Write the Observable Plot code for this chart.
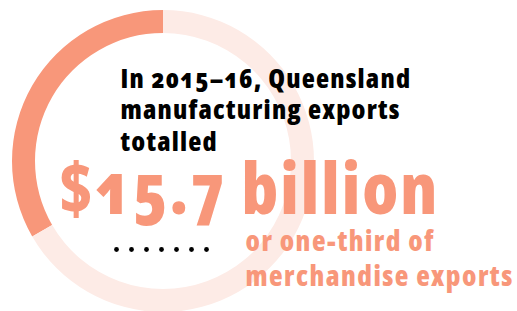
<!DOCTYPE html>
<html>
<head>
<meta charset="utf-8">
<script src="https://cdn.jsdelivr.net/npm/d3@7"></script>
<script src="https://cdn.jsdelivr.net/npm/@observablehq/plot@0.6"></script>
<style>
  html, body { margin: 0; padding: 0; background: #fff; }
  svg { display: block; }
  .hl text, .big text, .sub text {
    font-family: "Open Sans", sans-serif !important;
    font-variant-numeric: oldstyle-nums;
    font-weight: 800;
    font-stretch: 80%;
  }
  .hl text { letter-spacing: 1.2px; }
  .big text { letter-spacing: 2px; }
  .sub text { letter-spacing: 1.45px; }
</style>
</head>
<body>
<div id="chart"></div>
<script>
// Share of Queensland merchandise exports, 2015–16
const segments = ["Manufacturing", "Other merchandise"];
const shares = [1 / 3, 2 / 3];
const segmentColors = ["#F8977A", "#FDEBE6"];

// Text
const headline = ["In 2015–16, Queensland", "manufacturing exports", "totalled"];
const bigValue = ["$15.7 billion"];
const subline = ["or one-third of", "merchandise exports"];
const dots = [0, 1, 2, 3, 4, 5, 6];

const W = 517, H = 311;
const cx = 163, cy = 161, rOuter = 151, rInner = 128;

const ringData = segments.map((s, i) => ({ segment: s, share: shares[i], color: segmentColors[i] }));

function ringMark() {
  return () => {
    // manufacturing drawn counter-clockwise from 12 o'clock
    const pie = d3.pie().sort(null).value(d => d.share).startAngle(0).endAngle(-2 * Math.PI);
    const arcs = pie(ringData);
    const arc = d3.arc().innerRadius(rInner).outerRadius(rOuter);
    const g = d3.create("svg:g").attr("transform", `translate(${cx},${cy})`);
    g.selectAll("path").data(arcs).join("path")
      .attr("d", d => arc({ ...d, startAngle: Math.min(d.startAngle, d.endAngle), endAngle: Math.max(d.startAngle, d.endAngle) }))
      .attr("fill", d => d.data.color);
    return g.node();
  };
}

const lineText = (arr, opts) => arr.map((t, i) => Plot.text([t], {
  text: d => d, frameAnchor: "top-left", textAnchor: "start", lineAnchor: "bottom",
  ...opts, dy: opts.dy + i * (opts.step || 0)
}));

const chart = Plot.plot({
  width: W,
  height: H,
  margin: 0,
  x: { domain: [0, 6], range: [116, 206], axis: null },
  y: { axis: null },
  marks: [
    ringMark(),
    ...lineText(headline, { className: "hl", dx: 120, dy: 87, step: 31.5, fontSize: 27, fill: "#000" }),
    ...lineText(bigValue, { className: "big", dx: 58, dy: 213, fontSize: 70, fill: segmentColors[0] }),
    ...lineText(subline, { className: "sub", dx: 245, dy: 250, step: 35, fontSize: 28, fill: segmentColors[0] }),
    Plot.dot(dots, { x: d => d, frameAnchor: "top", dy: 249, r: 2.4, fill: "#000", stroke: null })
  ]
});
document.getElementById("chart").append(chart);
</script>
</body>
</html>
